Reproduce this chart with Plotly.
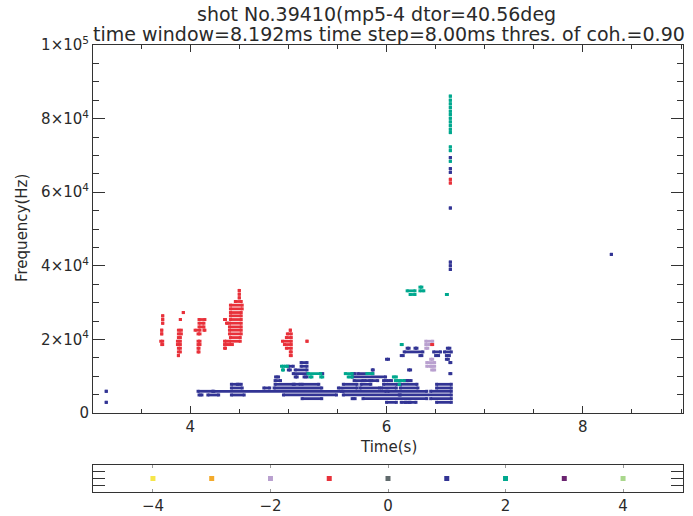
import plotly.graph_objects as go

# ---------------- data (time in s, frequency in Hz) ----------------
# each entry: (t_start, t_end, frequency)
navy_segments = [
    (3.145, 3.145, 5900), (3.145, 3.145, 2900), (8.29, 8.29, 43100),
    # 2.9 kHz
    (6.00, 6.10, 2900), (6.15, 6.19, 2900), (6.20, 6.23, 2900), (6.24, 6.30, 2900), (6.51, 6.66, 2900),
    # 3.9 kHz
    (5.14, 5.34, 3900), (5.65, 5.68, 3900), (5.76, 6.41, 3900), (6.45, 6.66, 3900),
    # 4.9 kHz
    (4.09, 4.12, 4900), (4.18, 4.29, 4900), (4.42, 4.55, 4900), (4.95, 5.49, 4900),
    (5.56, 6.13, 4900), (6.14, 6.66, 4900),
    # 5.9 kHz
    (4.08, 4.23, 5900), (4.24, 5.54, 5900), (5.555, 5.995, 5900), (6.015, 6.41, 5900), (6.45, 6.66, 5900),
    # 6.8 kHz
    (4.42, 4.53, 6800), (4.75, 4.81, 6800), (4.855, 5.34, 6800), (5.51, 5.70, 6800), (5.73, 5.93, 6800),
    (5.95, 6.10, 6800), (6.14, 6.32, 6800), (6.51, 6.66, 6800),
    # 7.8 kHz
    (4.42, 4.48, 7800), (4.49, 4.52, 7800), (4.865, 5.05, 7800), (5.06, 5.12, 7800), (5.14, 5.31, 7800),
    (5.56, 5.70, 7800), (5.74, 5.84, 7800), (5.97, 6.11, 7800), (6.14, 6.31, 7800), (6.51, 6.66, 7800),
    # 8.8 kHz
    (4.865, 4.92, 8800), (5.67, 5.76, 8800), (5.78, 5.83, 8800), (5.85, 5.91, 8800), (5.97, 6.00, 8800),
    (6.02, 6.05, 8800), (6.18, 6.21, 8800), (6.22, 6.25, 8800),
    # 9.8 kHz
    (4.87, 4.90, 9800), (5.07, 5.09, 9800), (5.16, 5.19, 9800), (5.65, 5.99, 9800),
    # 10.7 kHz
    (5.05, 5.20, 10700), (5.33, 5.35, 10700), (5.65, 5.68, 10700), (5.71, 5.86, 10700), (6.645, 6.655, 10700),
    # 11.7 kHz
    (5.00, 5.02, 11700), (5.07, 5.19, 11700), (5.855, 5.865, 11700), (6.225, 6.245, 11700),
    # 12.7 / 13.7 / 14.6 kHz
    (5.00, 5.05, 12700), (5.13, 5.19, 12700),
    (5.13, 5.19, 13700), (6.645, 6.655, 13700),
    (6.00, 6.02, 14600), (6.61, 6.63, 14600),
    # 15.6 / 16.6 / 17.6 kHz
    (6.15, 6.17, 15600), (6.34, 6.36, 15600), (6.50, 6.53, 15600), (6.61, 6.64, 15600),
    (6.18, 6.37, 16600), (6.48, 6.55, 16600), (6.59, 6.66, 16600),
    (6.21, 6.23, 17600), (6.29, 6.31, 17600), (6.62, 6.645, 17600),
    # high-frequency column
    (6.65, 6.65, 69400), (6.65, 6.65, 66400), (6.65, 6.65, 65400), (6.65, 6.65, 55700),
    (6.65, 6.65, 41000), (6.65, 6.65, 40000), (6.65, 6.65, 39000),
]

teal_segments = [
    (4.93, 4.95, 12700), (4.97, 4.99, 12700), (4.94, 4.95, 11700),
    (5.20, 5.33, 10700), (5.22, 5.24, 9800), (5.33, 5.35, 9800),
    (5.58, 5.65, 10700), (5.80, 5.86, 10700), (5.61, 5.65, 9800),
    (6.07, 6.10, 9800), (6.09, 6.12, 8800), (6.14, 6.18, 8800), (6.13, 6.13, 7800),
    (6.15, 6.16, 18600),
    (6.21, 6.29, 33200), (6.24, 6.29, 32200), (6.34, 6.36, 34200), (6.34, 6.38, 33200), (6.61, 6.62, 32200),
    (6.65, 6.65, 86100), (6.65, 6.65, 85000), (6.65, 6.65, 84000), (6.65, 6.65, 83000),
    (6.65, 6.65, 82000), (6.65, 6.65, 81100), (6.65, 6.65, 80100), (6.65, 6.65, 79100),
    (6.65, 6.65, 78100), (6.65, 6.65, 77100), (6.65, 6.65, 76200), (6.65, 6.65, 72300),
    (6.65, 6.65, 71300), (6.65, 6.65, 68400),
]

lilac_segments = [
    (6.40, 6.47, 19500), (6.40, 6.44, 18600), (6.40, 6.42, 17600), (6.45, 6.47, 14600),
    (6.41, 6.49, 13700), (6.41, 6.45, 12700), (6.46, 6.49, 12700), (6.46, 6.49, 11700),
]

red_segments = [
    # ~3.72 s
    (3.72, 3.72, 26400), (3.72, 3.72, 25400), (3.72, 3.72, 24400), (3.71, 3.71, 22500),
    (3.71, 3.71, 21500), (3.70, 3.72, 19500), (3.71, 3.72, 18600),
    # ~3.9 s
    (3.93, 3.93, 27300), (3.90, 3.90, 25400), (3.88, 3.91, 22500), (3.88, 3.91, 21500),
    (3.88, 3.90, 20500), (3.87, 3.90, 19500), (3.87, 3.90, 18600), (3.88, 3.90, 17600),
    (3.88, 3.90, 16600), (3.88, 3.88, 15600),
    # ~4.1 s
    (4.09, 4.15, 25400), (4.09, 4.14, 24400), (4.09, 4.14, 23400), (4.05, 4.10, 22500),
    (4.14, 4.15, 22500), (4.08, 4.10, 21500), (4.08, 4.10, 19500), (4.08, 4.10, 18600),
    (4.08, 4.09, 17600), (4.08, 4.09, 16600),
    # ~4.35-4.5 s
    (4.35, 4.36, 25400), (4.37, 4.38, 24400), (4.35, 4.37, 19500), (4.35, 4.37, 18600), (4.35, 4.36, 17600),
    (4.50, 4.50, 33300), (4.50, 4.50, 32300), (4.50, 4.50, 31300), (4.46, 4.52, 30300),
    (4.41, 4.53, 29300), (4.41, 4.53, 28300), (4.41, 4.52, 27300), (4.41, 4.52, 26400),
    (4.41, 4.52, 25400), (4.40, 4.52, 24400), (4.40, 4.52, 23400), (4.40, 4.52, 22500),
    (4.40, 4.52, 21500), (4.41, 4.51, 20500), (4.40, 4.51, 19500), (4.40, 4.43, 18600),
    # ~5.0 s
    (5.02, 5.02, 22500), (4.99, 5.03, 21500), (4.98, 5.03, 20500), (4.94, 5.03, 19500),
    (4.96, 5.03, 18600), (4.98, 5.03, 17600), (5.02, 5.03, 16600), (5.02, 5.03, 15600),
    (5.19, 5.19, 19500),
    # late
    (6.46, 6.47, 18600), (6.65, 6.65, 63500), (6.65, 6.65, 62500),
]

# legend strip (mode numbers and their colours)
mode_numbers = [-4, -3, -2, -1, 0, 1, 2, 3, 4]
mode_colors = ["#f6e64a", "#f3aa2c", "#b9a0cf", "#e8313a", "#606a6c",
               "#323494", "#00a88e", "#6b2470", "#a9d78c"]

y_tick_vals = [0, 20000, 40000, 60000, 80000, 100000]
y_tick_text = ["0", "2×10<sup>4</sup>", "4×10<sup>4</sup>", "6×10<sup>4</sup>",
               "8×10<sup>4</sup>", "1×10<sup>5</sup>"]
x_tick_vals = [4, 6, 8]
strip_tick_vals = [-4, -2, 0, 2, 4]
strip_tick_text = ["−4", "−2", "0", "2", "4"]

# ---------------- figure ----------------
FONT = "DejaVu Sans"
TXT = "#2a2a2a"
AX = "#333333"

fig = go.Figure()


def add_group(segs, color):
    xs, ys = [], []
    for t0, t1, f in segs:
        xs += [t0, t1, None]
        ys += [f, f, None]
    fig.add_trace(go.Scatter(
        x=xs, y=ys, mode="lines+markers",
        line=dict(color=color, width=2.8),
        marker=dict(symbol="square", size=3, color=color, line=dict(width=0)),
        hoverinfo="skip", showlegend=False, xaxis="x", yaxis="y"))


add_group(navy_segments, mode_colors[5])
add_group(teal_segments, mode_colors[6])
add_group(lilac_segments, mode_colors[2])
add_group(red_segments, mode_colors[3])

fig.add_trace(go.Scatter(
    x=mode_numbers, y=[0.5] * len(mode_numbers), mode="markers",
    marker=dict(symbol="square", size=5, color=mode_colors, line=dict(width=0)),
    hoverinfo="skip", showlegend=False, xaxis="x2", yaxis="y2"))

PLOT_TOP, PLOT_BOT = 45, 492
H = PLOT_BOT - PLOT_TOP
main_bottom = (PLOT_BOT - 413) / H
strip_top = (PLOT_BOT - 465) / H

fig.update_layout(
    width=693, height=516,
    margin=dict(l=93, r=10, t=PLOT_TOP, b=516 - PLOT_BOT, autoexpand=False),
    paper_bgcolor="white", plot_bgcolor="white",
    font=dict(family=FONT, size=15, color=TXT),
    xaxis=dict(domain=[0, 1], anchor="y", range=[3.01, 9.02], automargin=False,
               tickvals=x_tick_vals, ticks="inside", ticklen=7, tickcolor=AX,
               minor=dict(dtick=0.5, tick0=3, ticks="inside", ticklen=4, tickcolor=AX),
               showline=True, linecolor=AX, linewidth=1, mirror="ticks",
               showgrid=False, zeroline=False, tickfont=dict(size=15)),
    yaxis=dict(domain=[main_bottom, 1], anchor="x", range=[0, 100000], automargin=False,
               tickvals=y_tick_vals, ticktext=y_tick_text,
               ticks="inside", ticklen=12, tickcolor=AX,
               minor=dict(dtick=5000, tick0=0, ticks="inside", ticklen=6, tickcolor=AX),
               showline=True, linecolor=AX, linewidth=1, mirror="ticks",
               showgrid=False, zeroline=False, tickfont=dict(size=15)),
    xaxis2=dict(domain=[0, 1], anchor="y2", range=[-5.02, 5.02], automargin=False,
                tickvals=strip_tick_vals, ticktext=strip_tick_text,
                ticks="inside", ticklen=3, tickcolor="#999999",
                showline=True, linecolor=AX, linewidth=1, mirror="ticks",
                showgrid=False, zeroline=False, tickfont=dict(size=15)),
    yaxis2=dict(domain=[0, strip_top], anchor="x2", range=[0, 1], automargin=False,
                tickvals=[0.25, 0.5, 0.75], showticklabels=False,
                ticks="inside", ticklen=12, tickcolor=AX,
                showline=True, linecolor=AX, linewidth=1, mirror="ticks",
                showgrid=False, zeroline=False),
)


def px_x(x):
    return (x - 93) / 590.0


def px_y(y):
    return (PLOT_BOT - y) / H


fig.add_annotation(text="shot No.39410(mp5-4 dtor=40.56deg", x=px_x(376), y=px_y(14),
                   xref="paper", yref="paper", showarrow=False, xanchor="center", yanchor="middle",
                   font=dict(size=19, family=FONT, color=TXT))
fig.add_annotation(text="time window=8.192ms time step=8.00ms thres. of coh.=0.90",
                   x=px_x(389), y=px_y(34), xref="paper", yref="paper", showarrow=False,
                   xanchor="center", yanchor="middle", font=dict(size=19, family=FONT, color=TXT))
fig.add_annotation(text="Time(s)", x=px_x(388), y=px_y(447), xref="paper", yref="paper",
                   showarrow=False, xanchor="center", yanchor="middle",
                   font=dict(size=15, family=FONT, color=TXT))
fig.add_annotation(text="Frequency(Hz)", x=px_x(22), y=px_y(228), xref="paper", yref="paper",
                   showarrow=False, xanchor="center", yanchor="middle", textangle=-90,
                   font=dict(size=15, family=FONT, color=TXT))

fig.write_html("out.html")
